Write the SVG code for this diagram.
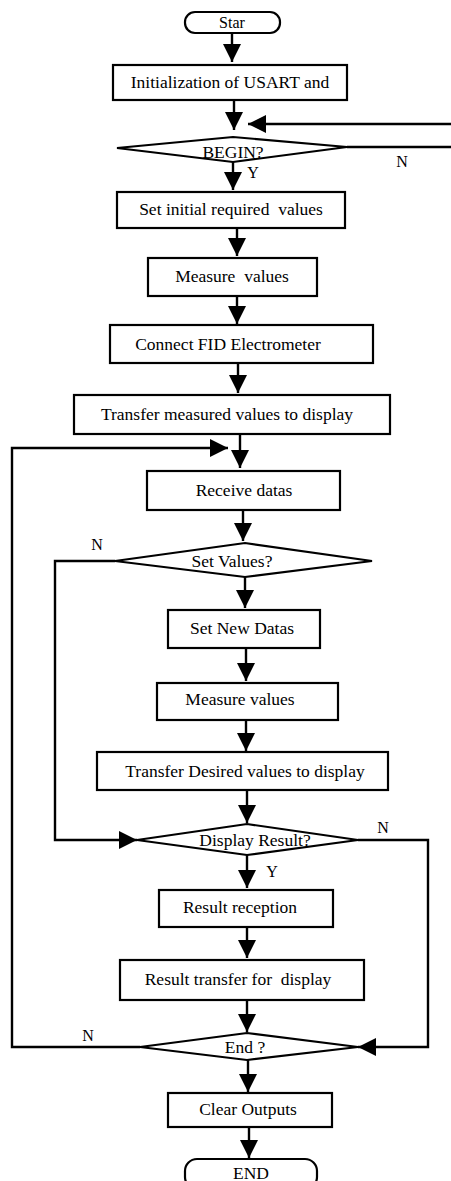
<svg xmlns="http://www.w3.org/2000/svg" width="451" height="1181" viewBox="0 0 451 1181">
<style>
.box{fill:#fff;stroke:#000;stroke-width:2.2}
.t{font-family:"Liberation Serif","Times New Roman",serif;font-size:17.5px;fill:#000;text-anchor:middle}
.lbl{font-family:"Liberation Serif","Times New Roman",serif;font-size:16px;fill:#000;text-anchor:middle}
.c{fill:none;stroke:#000;stroke-width:2.4}
</style>
<defs>
<marker id="ah" viewBox="0 0 18 18" refX="18" refY="9" markerWidth="18" markerHeight="18" markerUnits="userSpaceOnUse" orient="auto">
<path d="M0,0 L18,9 L0,18 z" fill="#000"/>
</marker>
</defs>
<rect width="451" height="1181" fill="#fff"/>
<g id="connectors">
<line class="c" x1="232" y1="33" x2="232" y2="62" marker-end="url(#ah)"/>
<line class="c" x1="234" y1="100" x2="234" y2="130" marker-end="url(#ah)"/>
<line class="c" x1="451" y1="124" x2="248" y2="124" marker-end="url(#ah)"/>
<line class="c" x1="347" y1="147" x2="451" y2="147"/>
<line class="c" x1="233" y1="162" x2="233" y2="190" marker-end="url(#ah)"/>
<line class="c" x1="237" y1="228" x2="237" y2="256" marker-end="url(#ah)"/>
<line class="c" x1="237" y1="296" x2="237" y2="324" marker-end="url(#ah)"/>
<line class="c" x1="238" y1="363" x2="238" y2="393" marker-end="url(#ah)"/>
<line class="c" x1="240" y1="434" x2="240" y2="468" marker-end="url(#ah)"/>
<polyline class="c" points="140,1047 12,1047 12,448 228,448" marker-end="url(#ah)"/>
<line class="c" x1="243" y1="510" x2="243" y2="541" marker-end="url(#ah)"/>
<polyline class="c" points="115,561 55,561 55,840 137,840" marker-end="url(#ah)"/>
<line class="c" x1="245" y1="577" x2="245" y2="608" marker-end="url(#ah)"/>
<line class="c" x1="246" y1="648" x2="246" y2="681" marker-end="url(#ah)"/>
<line class="c" x1="246" y1="720" x2="246" y2="751" marker-end="url(#ah)"/>
<line class="c" x1="247" y1="790" x2="247" y2="823" marker-end="url(#ah)"/>
<polyline class="c" points="358,840 428,840 428,1047 358,1047" marker-end="url(#ah)"/>
<line class="c" x1="247" y1="855" x2="247" y2="888" marker-end="url(#ah)"/>
<line class="c" x1="247" y1="927" x2="247" y2="958" marker-end="url(#ah)"/>
<line class="c" x1="247" y1="1000" x2="247" y2="1032" marker-end="url(#ah)"/>
<line class="c" x1="248" y1="1060" x2="248" y2="1092" marker-end="url(#ah)"/>
<line class="c" x1="249" y1="1127" x2="249" y2="1158" marker-end="url(#ah)"/>
<text class="lbl" x="402" y="167">N</text>
<text class="lbl" x="253" y="178">Y</text>
<text class="lbl" x="97" y="550">N</text>
<text class="lbl" x="383" y="833">N</text>
<text class="lbl" x="272" y="877">Y</text>
<text class="lbl" x="88" y="1041">N</text>
</g>
<g id="start"><rect class="box" x="185" y="12" width="95" height="21" rx="10"/><text class="t" x="232" y="28" style="font-size:16px">Star</text></g>
<g id="init"><rect class="box" x="113" y="65" width="234" height="35"/><text class="t" x="230" y="88">Initialization of USART and</text></g>
<g id="begin"><polygon class="box" points="117,148 233,137 347,147 233,162"/><text class="t" x="233" y="158">BEGIN?</text></g>
<g id="setinit"><rect class="box" x="117" y="192" width="228" height="36"/><text class="t" x="231" y="215" xml:space="preserve">Set initial required  values</text></g>
<g id="measure1"><rect class="box" x="148" y="258" width="169" height="38"/><text class="t" x="232" y="282" xml:space="preserve">Measure  values</text></g>
<g id="connect"><rect class="box" x="110" y="325" width="263" height="38"/><text class="t" x="228" y="350">Connect FID Electrometer</text></g>
<g id="transfer1"><rect class="box" x="74" y="395" width="316" height="39"/><text class="t" x="227" y="420">Transfer measured values to display</text></g>
<g id="receive"><rect class="box" x="147" y="471" width="193" height="39"/><text class="t" x="244" y="496">Receive datas</text></g>
<g id="setvalues"><polygon class="box" points="115,561 245,543 372,561 245,577"/><text class="t" x="232" y="567">Set Values?</text></g>
<g id="setnew"><rect class="box" x="168" y="610" width="152" height="38"/><text class="t" x="242" y="634">Set New Datas</text></g>
<g id="measure2"><rect class="box" x="157" y="683" width="181" height="37"/><text class="t" x="240" y="705">Measure values</text></g>
<g id="transfer2"><rect class="box" x="97" y="752" width="291" height="38"/><text class="t" x="245" y="777">Transfer Desired values to display</text></g>
<g id="display"><polygon class="box" points="137,840 247,824 358,840 247,855"/><text class="t" x="255" y="846">Display Result?</text></g>
<g id="reception"><rect class="box" x="159" y="890" width="174" height="37"/><text class="t" x="240" y="913">Result reception</text></g>
<g id="rtransfer"><rect class="box" x="120" y="960" width="244" height="40"/><text class="t" x="238" y="985" xml:space="preserve">Result transfer for  display</text></g>
<g id="end"><polygon class="box" points="140,1047 247,1033 358,1047 247,1060"/><text class="t" x="245" y="1053">End ?</text></g>
<g id="clear"><rect class="box" x="168" y="1093" width="164" height="34"/><text class="t" x="248" y="1115">Clear Outputs</text></g>
<g id="stop"><rect class="box" x="185" y="1159" width="132" height="30" rx="12"/><text class="t" x="251" y="1179">END</text></g>
</svg>
